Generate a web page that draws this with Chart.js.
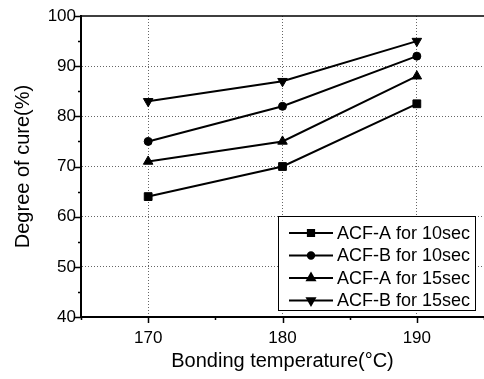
<!DOCTYPE html>
<html>
<head>
<meta charset="utf-8">
<script src="https://cdn.jsdelivr.net/npm/chart.js@4/dist/chart.umd.min.js"></script>
<style>
  html, body { margin: 0; padding: 0; background: #fff; }
  #wrap { width: 484px; height: 379px; }
</style>
</head>
<body>
<div id="wrap"><canvas id="chart"></canvas></div>
<script>
const temps = [170, 180, 190]
const acfA10 = [64, 70, 82.5]
const acfB10 = [75, 82, 92]
const acfA15 = [71, 75, 88]
const acfB15 = [83, 87, 95]
const seriesNames = ['ACF-A for 10sec', 'ACF-B for 10sec', 'ACF-A for 15sec', 'ACF-B for 15sec']
const xTicks = [170, 180, 190]
const yTicks = [40, 50, 60, 70, 80, 90, 100]

const FONT = 'Liberation Sans, Arial, sans-serif'

function series(label, values, style, radius, rot) {
  return {
    label,
    data: temps.map((t, i) => ({ x: t, y: values[i] })),
    borderColor: '#000',
    backgroundColor: '#000',
    borderWidth: 2,
    pointStyle: style,
    pointRotation: rot || 0,
    pointRadius: radius,
    pointBorderWidth: 1,
    tension: 0,
    fill: false,
  }
}

// outward ticks, top frame line and the boxed legend
const frame = {
  id: 'frame',
  afterDraw(chart) {
    const { ctx, chartArea: a, scales: { x, y } } = chart
    ctx.save()
    ctx.strokeStyle = '#000'
    ctx.lineWidth = 1.5
    ctx.beginPath()
    ctx.moveTo(a.left, a.top); ctx.lineTo(a.right, a.top)
    for (let v = 40; v <= 100; v += 5) {
      const py = Math.round(y.getPixelForValue(v)) + 0.5
      ctx.moveTo(a.left, py); ctx.lineTo(a.left - (v % 10 ? 3 : 6), py)
    }
    for (let v = 165; v <= 195; v += 5) {
      const px = Math.round(x.getPixelForValue(v)) + 0.5
      ctx.moveTo(px, a.bottom); ctx.lineTo(px, a.bottom + (v % 10 ? 3 : 6))
    }
    ctx.stroke()

    // legend
    const bx = 278, by = 216, bw = 197, bh = 94
    ctx.fillStyle = '#fff'
    ctx.fillRect(bx, by, bw, bh)
    ctx.lineWidth = 1
    ctx.strokeRect(bx + 0.5, by + 0.5, bw, bh)
    ctx.font = '18px ' + FONT
    ctx.textBaseline = 'middle'
    chart.data.datasets.forEach((ds, i) => {
      const ry = by + 17 + i * 22.5
      ctx.strokeStyle = '#000'
      ctx.lineWidth = 2
      ctx.beginPath(); ctx.moveTo(289, ry); ctx.lineTo(333, ry); ctx.stroke()
      ctx.fillStyle = '#000'
      Chart.helpers.drawPoint(ctx, {
        pointStyle: ds.pointStyle, rotation: ds.pointRotation,
        radius: ds.pointRadius * 0.8, borderWidth: 1,
      }, 311, ry)
      ctx.fillText(ds.label, 337, ry + 1)
    })
    ctx.restore()
  },
}

new Chart(document.getElementById('chart'), {
  type: 'line',
  data: {
    datasets: [
      series(seriesNames[0], acfA10, 'rect', 5.5),
      series(seriesNames[1], acfB10, 'circle', 4),
      series(seriesNames[2], acfA15, 'triangle', 5.5),
      series(seriesNames[3], acfB15, 'triangle', 5.5, 180),
    ],
  },
  options: {
    responsive: true,
    maintainAspectRatio: false,
    animation: false,
    layout: { autoPadding: false, padding: { top: 16, right: 0, left: 0, bottom: 0 } },
    plugins: { legend: { display: false }, tooltip: { enabled: false } },
    scales: {
      x: {
        type: 'linear',
        min: 165, max: 195,
        afterFit: s => { s.height = 62 },
        afterBuildTicks: s => { s.ticks = xTicks.map(v => ({ value: v })) },
        ticks: { color: '#000', font: { family: FONT, size: 17 }, padding: 11, autoSkip: false },
        grid: { color: '#666', drawTicks: false, lineWidth: 1 },
        border: { color: '#000', width: 2, dash: [1, 2] },
        title: {
          display: true, text: 'Bonding temperature(°C)', color: '#000',
          font: { family: FONT, size: 20 }, padding: { top: 0, bottom: 6 },
        },
      },
      y: {
        min: 40, max: 100,
        afterFit: s => { s.width = 81 },
        afterBuildTicks: s => { s.ticks = yTicks.map(v => ({ value: v })) },
        ticks: { color: '#000', font: { family: FONT, size: 17 }, padding: 5 },
        grid: {
          color: c => (c.tick && c.tick.value > 40 && c.tick.value < 100) ? '#666' : 'rgba(0,0,0,0)',
          drawTicks: false, lineWidth: 1,
        },
        border: { color: '#000', width: 2, dash: [1, 2] },
        title: {
          display: true, text: 'Degree of cure(%)', color: '#000',
          font: { family: FONT, size: 20 }, padding: { top: 11, bottom: 0 },
        },
      },
    },
  },
  plugins: [frame],
})
</script>
</body>
</html>
